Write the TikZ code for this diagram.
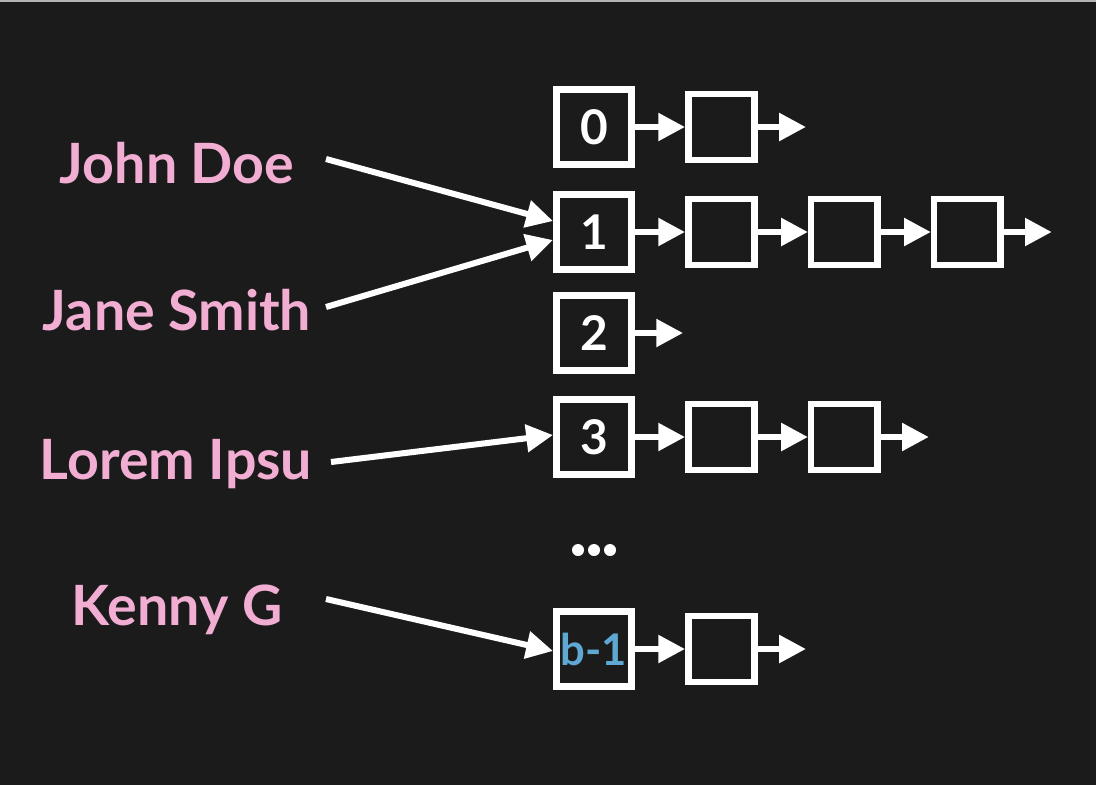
\documentclass[tikz,border=0pt]{standalone}
\usepackage{fontspec}
\setmainfont{Lato}
\usetikzlibrary{arrows.meta,positioning,calc}
\definecolor{bg}{HTML}{1B1B1B}
\definecolor{namepink}{HTML}{F2AED2}
\definecolor{idxblue}{HTML}{5FA8D3}
\definecolor{edge}{HTML}{B4B4B4}

\begin{document}
\begin{tikzpicture}[x=0.025cm, y=-0.025cm, node distance=1.25cm,
  bucket/.style={draw=white, line width=5pt, minimum size=1.875cm, inner sep=0pt, text=white, font=\fontsize{34}{36}\selectfont\bfseries},
  cell/.style={draw=white, line width=4.6pt, minimum size=1.66cm, inner sep=0pt},
  ptr/.style={-{Triangle[length=19pt,width=19pt]}, draw=white, line width=4.3pt},
  who/.style={text=namepink, inner sep=0pt, font=\fontsize{39.5}{42}\selectfont\bfseries}]
% background
\useasboundingbox (0,0) rectangle (1096,784);
\fill[bg] (-10,-10) rectangle (1106,794);
\draw[edge, line width=0.8pt] (-10,1) -- (1106,1);
% buckets
\node[bucket] (b0) at (594,127) {0};
\node[bucket] (b1) at (594,232) {1};
\node[bucket] (b2) at (594,333) {2};
\node[bucket] (b3) at (594,437) {3};
\node[bucket,text=idxblue,font=\fontsize{31}{33}\selectfont\bfseries] (bb) at (594,649) {b-1};
\foreach \px in {578,594,610} \fill[white] (\px,550) circle (6);
% chains
\node[cell,right=of b0] (c01) {};
\coordinate[right=1.2cm of c01] (e0);
\node[cell,right=of b1] (c11) {};
\node[cell,right=of c11] (c12) {};
\node[cell,right=of c12] (c13) {};
\coordinate[right=1.2cm of c13] (e1);
\coordinate[right=1.2cm of b2] (e2);
\node[cell,right=of b3] (c31) {};
\node[cell,right=of c31] (c32) {};
\coordinate[right=1.2cm of c32] (e3);
\node[cell,right=of bb] (cb1) {};
\coordinate[right=1.2cm of cb1] (eb);
\draw[ptr] (b0)--(c01);
\draw[ptr] (c01)--(e0);
\draw[ptr] (b1)--(c11);
\draw[ptr] (c11)--(c12);
\draw[ptr] (c12)--(c13);
\draw[ptr] (c13)--(e1);
\draw[ptr] (b2)--(e2);
\draw[ptr] (b3)--(c31);
\draw[ptr] (c31)--(c32);
\draw[ptr] (c32)--(e3);
\draw[ptr] (bb)--(cb1);
\draw[ptr] (cb1)--(eb);
% keys
\node[who,anchor=base] (john) at (177,183) {John Doe};
\node[who,anchor=base] (jane) at (177,330) {Jane Smith};
\node[who,anchor=base] (lorem) at (176,479) {Lorem Ipsu};
\node[who,anchor=base] (kenny) at (177,625) {Kenny G};
\draw[ptr] ($(john.base)+(149,-24)$) -- ([yshift=7.8pt]b1.west);
\draw[ptr] ($(jane.base)+(149,-23)$) -- ([yshift=-5.7pt]b1.west);
\draw[ptr] ($(lorem.base)+(155,-17)$) -- ([yshift=1.4pt]b3.west);
\draw[ptr] ($(kenny.base)+(149,-26)$) -- ([yshift=-1.4pt]bb.west);
\end{tikzpicture}
\end{document}
